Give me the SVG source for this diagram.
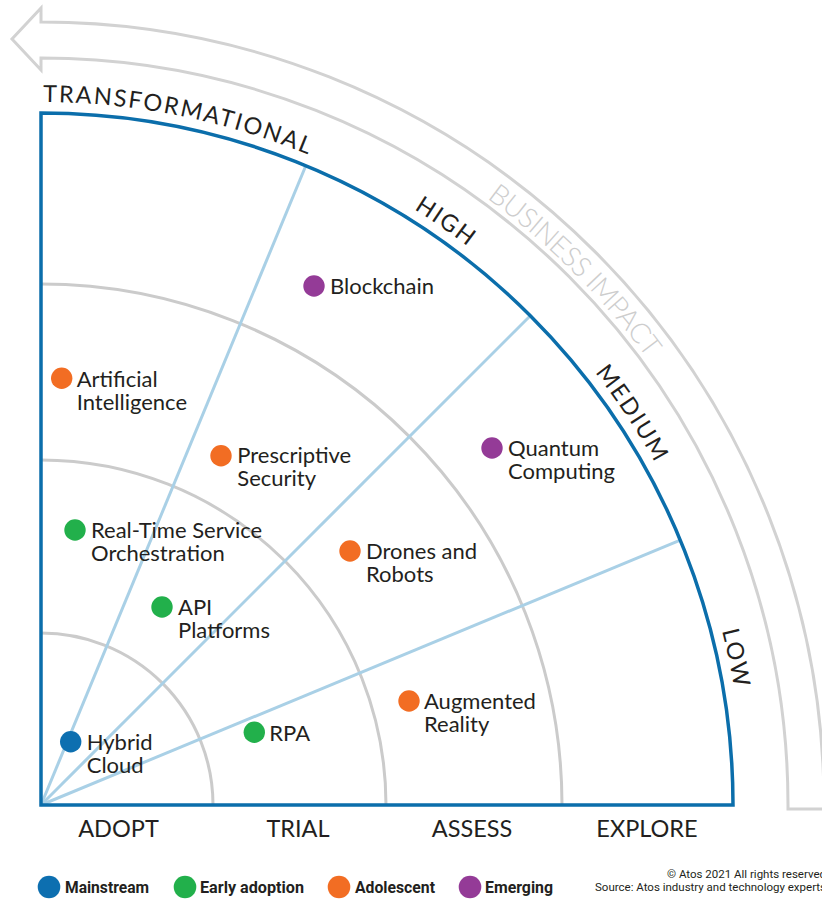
<svg xmlns="http://www.w3.org/2000/svg" xmlns:xlink="http://www.w3.org/1999/xlink" width="822" height="900" viewBox="0 0 822 900">
  <style>
    .ring { fill: none; stroke: #cbcbcb; stroke-width: 3; }
    .ray { fill: none; stroke: #a9d0e6; stroke-width: 3; }
    .frame { fill: none; stroke: #0b6eab; stroke-width: 3.5; stroke-linejoin: miter; }
    .band { fill: none; stroke: #d2d2d2; stroke-width: 3; stroke-linejoin: miter; }
    .lbl { font-family: Lato, "Open Sans", sans-serif; font-size: 22px; fill: #231f20; }
    .axis { font-family: Lato, "Open Sans", sans-serif; font-size: 23.5px; fill: #231f20; text-anchor: middle; }
    .impact { font-family: Lato, "Open Sans", sans-serif; font-size: 23.5px; fill: #231f20; letter-spacing: 1.9px; }
    .biz { font-family: Lato, "Open Sans", sans-serif; font-size: 28px; font-weight: 300; fill: #cdcdcd; letter-spacing: -0.6px; }
    .leg { font-family: Roboto, "Liberation Sans", sans-serif; font-size: 16px; font-weight: 700; fill: #231f20; }
    .note { font-family: Roboto, "Liberation Sans", sans-serif; font-size: 11.5px; fill: #231f20; }
    .mainstream { fill: #0d6fb0; }
    .early { fill: #22b04b; }
    .adolescent { fill: #f26d23; }
    .emerging { fill: #943b97; }
  </style>
  <defs>
    <!-- arcs around the origin (41,805) that carry the curved labels -->
    <path id="impactArc" d="M41,102 A703,703 0 0 1 744,805"/>
    <path id="bizArc" d="M41,52 A753,753 0 0 1 794,805"/>
  </defs>

  <rect x="0" y="0" width="822" height="900" fill="#ffffff"/>

  <!-- business impact arrow band -->
  <g id="business-impact">
    <path class="band" d="M41,22 A783,783 0 0 1 824,805 L824,809 L788,809 L788,805 A747,747 0 0 0 41,58 L41,70 L12,39 L41,8 Z"/>
    <text class="biz"><textPath xlink:href="#bizArc" startOffset="477">BUSINESS IMPACT</textPath></text>
  </g>

  <!-- rings and sector rays -->
  <g id="grid">
    <path class="ring" d="M41,633 A172,172 0 0 1 213,805"/>
    <path class="ring" d="M41,460 A345,345 0 0 1 386,805"/>
    <path class="ring" d="M41,284 A521,521 0 0 1 562,805"/>
    <line class="ray" x1="41" y1="805" x2="680.3" y2="540.2"/>
    <line class="ray" x1="41" y1="805" x2="530.3" y2="315.7"/>
    <line class="ray" x1="41" y1="805" x2="305.8" y2="165.7"/>
  </g>

  <!-- outer frame of the radar -->
  <path id="frame" class="frame" d="M41,113 L41,805 L733,805 A692,692 0 0 0 41,113 Z"/>

  <!-- impact level labels -->
  <g id="impact-levels">
    <text class="impact"><textPath xlink:href="#impactArc" startOffset="2">TRANSFORMATIONAL</textPath></text>
    <text class="impact"><textPath xlink:href="#impactArc" startOffset="393">HIGH</textPath></text>
    <text class="impact"><textPath xlink:href="#impactArc" startOffset="638">MEDIUM</textPath></text>
    <text class="impact"><textPath xlink:href="#impactArc" startOffset="928">LOW</textPath></text>
  </g>

  <!-- adoption stage labels -->
  <g id="stages">
    <text class="axis" x="118.5" y="837">ADOPT</text>
    <text class="axis" x="298" y="837">TRIAL</text>
    <text class="axis" x="472" y="837">ASSESS</text>
    <text class="axis" x="647" y="837">EXPLORE</text>
  </g>

  <!-- technologies -->
  <g id="blockchain">
    <circle class="emerging" cx="314" cy="286" r="10.7"/>
    <text class="lbl" x="330" y="294">Blockchain</text>
  </g>
  <g id="artificial-intelligence">
    <circle class="adolescent" cx="61.7" cy="378.3" r="10.7"/>
    <text class="lbl" x="76.7" y="386.7">Artificial</text>
    <text class="lbl" x="76.7" y="410">Intelligence</text>
  </g>
  <g id="prescriptive-security">
    <circle class="adolescent" cx="221" cy="455.7" r="10.7"/>
    <text class="lbl" x="237.3" y="462.5">Prescriptive</text>
    <text class="lbl" x="237.3" y="485.7">Security</text>
  </g>
  <g id="quantum-computing">
    <circle class="emerging" cx="492" cy="448" r="10.7"/>
    <text class="lbl" x="508" y="456">Quantum</text>
    <text class="lbl" x="508" y="479">Computing</text>
  </g>
  <g id="real-time-service-orchestration">
    <circle class="early" cx="75" cy="530" r="10.7"/>
    <text class="lbl" x="91" y="538">Real-Time Service</text>
    <text class="lbl" x="91" y="561">Orchestration</text>
  </g>
  <g id="drones-and-robots">
    <circle class="adolescent" cx="350" cy="551" r="10.7"/>
    <text class="lbl" x="366" y="558.5">Drones and</text>
    <text class="lbl" x="366" y="581.5">Robots</text>
  </g>
  <g id="api-platforms">
    <circle class="early" cx="162" cy="607" r="10.7"/>
    <text class="lbl" x="178" y="615">API</text>
    <text class="lbl" x="178" y="638">Platforms</text>
  </g>
  <g id="augmented-reality">
    <circle class="adolescent" cx="409" cy="701" r="10.7"/>
    <text class="lbl" x="424" y="709">Augmented</text>
    <text class="lbl" x="424" y="732">Reality</text>
  </g>
  <g id="hybrid-cloud">
    <circle class="mainstream" cx="70.7" cy="741.7" r="10.7"/>
    <text class="lbl" x="86.7" y="750">Hybrid</text>
    <text class="lbl" x="86.7" y="772.7">Cloud</text>
  </g>
  <g id="rpa">
    <circle class="early" cx="254.3" cy="732.3" r="10.7"/>
    <text class="lbl" x="269.3" y="740.7">RPA</text>
  </g>

  <!-- legend -->
  <g id="legend">
    <circle class="mainstream" cx="49" cy="887" r="11.3"/>
    <text class="leg" x="65" y="893" textLength="84" lengthAdjust="spacingAndGlyphs">Mainstream</text>
    <circle class="early" cx="185" cy="887" r="11.3"/>
    <text class="leg" x="200" y="893" textLength="104" lengthAdjust="spacingAndGlyphs">Early adoption</text>
    <circle class="adolescent" cx="339" cy="887" r="11.3"/>
    <text class="leg" x="355" y="893" textLength="80" lengthAdjust="spacingAndGlyphs">Adolescent</text>
    <circle class="emerging" cx="470" cy="887" r="11.3"/>
    <text class="leg" x="485" y="893" textLength="68" lengthAdjust="spacingAndGlyphs">Emerging</text>
  </g>

  <!-- credits -->
  <g id="credits">
    <text class="note" x="667" y="878" textLength="159" lengthAdjust="spacingAndGlyphs">© Atos 2021 All rights reserved</text>
    <text class="note" x="595" y="891" textLength="231" lengthAdjust="spacingAndGlyphs">Source: Atos industry and technology experts</text>
  </g>
</svg>
